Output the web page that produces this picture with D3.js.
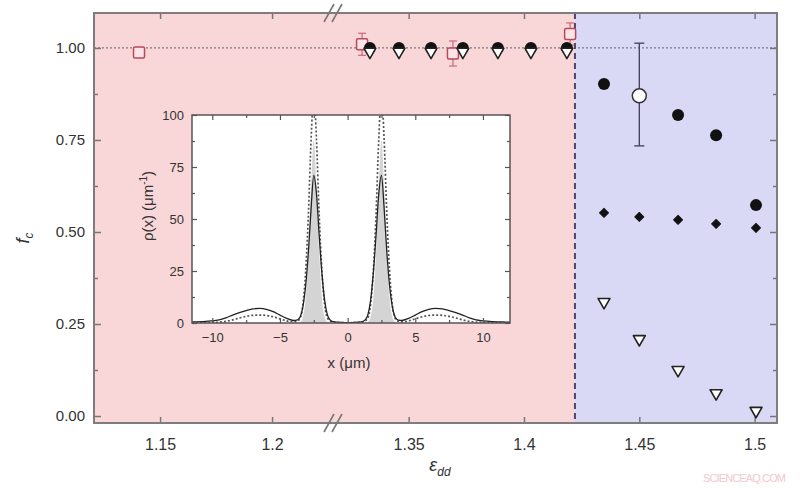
<!DOCTYPE html>
<html>
<head>
<meta charset="utf-8">
<script src="https://cdn.jsdelivr.net/npm/d3@7"></script>
<style>
body { margin: 0; background: #fff; }
text { font-family: "Liberation Sans", Arial, sans-serif; fill: #333; }
</style>
</head>
<body>
<svg id="chart" width="800" height="488"></svg>
<script>
// ---- main panel data ----
var epsCircle = [1.3332, 1.3458, 1.3597, 1.3735, 1.3887, 1.4030, 1.4186, 1.4347, 1.4668, 1.4833, 1.5006];
var fCircle   = [1.000, 1.000, 1.000, 1.000, 1.000, 1.000, 1.000, 0.902, 0.818, 0.763, 0.573];

var epsTri = [1.3332, 1.3458, 1.3597, 1.3735, 1.3887, 1.4030, 1.4186, 1.4347, 1.4500, 1.4668, 1.4833, 1.5006];
var fTri   = [0.990, 0.990, 0.990, 0.990, 0.990, 0.990, 0.990, 0.310, 0.209, 0.125, 0.062, 0.014];

var epsDiamond = [1.4347, 1.4500, 1.4668, 1.4833, 1.5006];
var fDiamond   = [0.552, 0.541, 0.533, 0.522, 0.511];

var epsOpen = [1.4500];
var fOpen   = [0.870];
var fOpenLo = [0.734];
var fOpenHi = [1.013];

var epsSquare = [1.1406, 1.3298, 1.3692, 1.4200];
var fSquare   = [0.988, 1.010, 0.985, 1.038];
var fSquareErr = [0.005, 0.030, 0.034, 0.030];

var yTicks = [0, 0.25, 0.5, 0.75, 1];
var yMinor = [0.125, 0.375, 0.625, 0.875];
var xTicksLeft = [1.15, 1.2];
var xTicksRight = [1.35, 1.4, 1.45, 1.5];
var epsCritical = 1.4221;
var fReference = 1.0;

// ---- inset data: density profile ----
var insetX = [-11.5, -10.5, -9.5, -9, -8.5, -8, -7.5, -7, -6.5, -6, -5.5, -5, -4.5, -4, -3.7, -3.5, -3.3, -3.1, -2.9, -2.7, -2.5, -2.3, -2.1, -1.9, -1.7, -1.5, -1.3, -1, -0.5,
              0, 0.5, 1, 1.3, 1.5, 1.7, 1.9, 2.1, 2.3, 2.5, 2.7, 2.9, 3.1, 3.3, 3.5, 3.7, 4, 4.5, 5, 5.5, 6, 6.5, 7, 7.5, 8, 8.5, 9, 9.5, 10.5, 11.5, 12];
var rhoSolid = [0.5, 0.8, 1.5, 2.5, 3.8, 5.0, 6.0, 6.8, 7.0, 6.6, 5.5, 3.8, 2.2, 1.2, 1.5, 3, 8, 18, 34, 55, 71, 62, 42, 24, 11, 4, 1.5, 0.5, 0.3,
                0.2, 0.3, 0.5, 1.5, 4, 11, 24, 42, 62, 71, 55, 34, 18, 8, 3, 1.5, 1.2, 2.2, 3.8, 5.5, 6.6, 7.0, 6.8, 6.0, 5.0, 3.8, 2.5, 1.5, 0.8, 0.5, 0.4];
var rhoDashed = [0.1, 0.2, 0.4, 0.8, 1.5, 2.4, 3.2, 3.7, 3.8, 3.6, 3.0, 2.0, 1.0, 0.6, 1.0, 2.5, 9, 25, 52, 88, 110, 88, 52, 25, 9, 2.5, 1.0, 0.4, 0.2,
                 0.1, 0.2, 0.4, 1.0, 2.5, 9, 25, 52, 88, 110, 88, 52, 25, 9, 2.5, 1.0, 0.6, 1.0, 2.0, 3.0, 3.6, 3.8, 3.7, 3.2, 2.4, 1.5, 0.8, 0.4, 0.2, 0.1, 0.1];
var rhoGrey = [0, 0, 0, 0, 0, 0, 0, 0, 0, 0, 0, 0, 0, 0, 0, 0.5, 3, 12, 34, 66, 88, 66, 34, 12, 3, 0.5, 0, 0, 0,
               0, 0, 0, 0, 0.5, 3, 12, 34, 66, 88, 66, 34, 12, 3, 0.5, 0, 0, 0, 0, 0, 0, 0, 0, 0, 0, 0, 0, 0, 0, 0, 0];
var insetXTicks = [-10, -5, 0, 5, 10];
var insetXMinor = [-7.5, -2.5, 2.5, 7.5];
var insetYTicks = [0, 25, 50, 75, 100];
var insetYMinor = [12.5, 37.5, 62.5, 87.5];

var svg = d3.select("#chart");

var frame = {left: 94, right: 777, top: 13, bottom: 423};
var breakX = 333;

// broken x axis: two linear pieces
var xL = d3.scaleLinear().domain([1.1205, 1.2272]).range([frame.left, breakX]);
var xR = d3.scaleLinear().domain([1.3172, 1.5097]).range([breakX, frame.right]);
function xPos(v) { return v < 1.27 ? xL(v) : xR(v); }

var y = d3.scaleLinear().domain([-0.019, 1.095]).range([frame.bottom, frame.top]);

// background shading
svg.append("rect")
    .attr("x", frame.left).attr("y", frame.top)
    .attr("width", xR(epsCritical) - frame.left)
    .attr("height", frame.bottom - frame.top)
    .attr("fill", "#f9d7d8");
svg.append("rect")
    .attr("x", xR(epsCritical)).attr("y", frame.top)
    .attr("width", frame.right - xR(epsCritical))
    .attr("height", frame.bottom - frame.top)
    .attr("fill", "#d9d9f6");

// reference line at f=1
svg.append("line")
    .attr("x1", frame.left).attr("x2", frame.right)
    .attr("y1", y(fReference)).attr("y2", y(fReference))
    .attr("stroke", "#7a7a8a").attr("stroke-width", 1.2)
    .attr("stroke-dasharray", "2,2");

// critical line
svg.append("line")
    .attr("x1", xR(epsCritical)).attr("x2", xR(epsCritical))
    .attr("y1", frame.top).attr("y2", frame.bottom)
    .attr("stroke", "#4b4570").attr("stroke-width", 2)
    .attr("stroke-dasharray", "6,4");

// axes
var axG = svg.append("g");
function styleAxis(g) {
  g.select(".domain").remove();
  g.selectAll(".tick line").attr("stroke", "#777").attr("stroke-width", 1.5);
  g.selectAll(".tick text").attr("fill", "#333");
}
axG.append("g").attr("transform", "translate(" + frame.left + ",0)")
    .call(d3.axisLeft(y).tickValues(yTicks).tickSize(-7).tickPadding(9).tickFormat(d3.format(".2f")))
    .call(styleAxis).selectAll("text").style("font-size", "15px");
axG.append("g").attr("transform", "translate(" + frame.left + ",0)")
    .call(d3.axisLeft(y).tickValues(yMinor).tickSize(-4).tickFormat(""))
    .call(styleAxis);
axG.append("g").attr("transform", "translate(" + frame.right + ",0)")
    .call(d3.axisRight(y).tickValues(yTicks).tickSize(-7).tickFormat(""))
    .call(styleAxis);
axG.append("g").attr("transform", "translate(" + frame.right + ",0)")
    .call(d3.axisRight(y).tickValues(yMinor).tickSize(-4).tickFormat(""))
    .call(styleAxis);

[[xL, xTicksLeft], [xR, xTicksRight]].forEach(function(p) {
  axG.append("g").attr("transform", "translate(0," + frame.bottom + ")")
      .call(d3.axisBottom(p[0]).tickValues(p[1]).tickSize(-6).tickPadding(16).tickFormat(d3.format("~g")))
      .call(styleAxis).selectAll("text").style("font-size", "16px");
  axG.append("g").attr("transform", "translate(0," + frame.top + ")")
      .call(d3.axisTop(p[0]).tickValues(p[1]).tickSize(-6).tickFormat(""))
      .call(styleAxis);
});

// frame
svg.append("rect")
    .attr("x", frame.left).attr("y", frame.top)
    .attr("width", frame.right - frame.left).attr("height", frame.bottom - frame.top)
    .attr("fill", "none").attr("stroke", "#7d7d7d").attr("stroke-width", 2);

// axis break marks
[frame.top, frame.bottom].forEach(function(yy) {
  [0, 8].forEach(function(dx) {
    svg.append("line")
        .attr("x1", breakX - 9 + dx).attr("y1", yy + 9)
        .attr("x2", breakX + 1 + dx).attr("y2", yy - 9)
        .attr("stroke", "#777").attr("stroke-width", 1.6);
  });
});

// axis titles
svg.append("text")
    .attr("transform", "translate(29,238) rotate(-90)")
    .attr("text-anchor", "middle")
    .style("font-size", "18px").style("font-style", "italic")
    .text("f")
  .append("tspan").attr("dy", 4).style("font-size", "12px").text("c");
svg.append("text")
    .attr("x", 440).attr("y", 471)
    .attr("text-anchor", "middle")
    .style("font-size", "18px").style("font-style", "italic")
    .text("ε")
  .append("tspan").attr("dy", 5).style("font-size", "12px").text("dd");

// ---- inset ----
var inset = {left: 192, right: 510, top: 115, bottom: 323};
var xi = d3.scaleLinear().domain([-11.5, 12]).range([inset.left, inset.right]);
var yi = d3.scaleLinear().domain([0, 100]).range([inset.bottom, inset.top]);

svg.append("rect")
    .attr("x", inset.left).attr("y", inset.top)
    .attr("width", inset.right - inset.left).attr("height", inset.bottom - inset.top)
    .attr("fill", "#fff");

svg.append("clipPath").attr("id", "insetClip")
  .append("rect")
    .attr("x", inset.left).attr("y", inset.top)
    .attr("width", inset.right - inset.left).attr("height", inset.bottom - inset.top);

var curves = svg.append("g").attr("clip-path", "url(#insetClip)");
var profile = insetX.map(function(x, i) {
  return {x: x, solid: rhoSolid[i], dashed: rhoDashed[i], grey: rhoGrey[i]};
});

curves.append("path")
    .datum(profile)
    .attr("fill", "#cdcdcd").attr("opacity", 0.85)
    .attr("d", d3.area().curve(d3.curveMonotoneX)
      .x(function(d) { return xi(d.x); })
      .y0(yi(0))
      .y1(function(d) { return yi(d.grey); }));
curves.append("path")
    .datum(profile)
    .attr("fill", "none").attr("stroke", "#555").attr("stroke-width", 1.7)
    .attr("stroke-dasharray", "2,2")
    .attr("d", d3.line().curve(d3.curveMonotoneX)
      .x(function(d) { return xi(d.x); })
      .y(function(d) { return yi(d.dashed); }));
curves.append("path")
    .datum(profile)
    .attr("fill", "none").attr("stroke", "#222").attr("stroke-width", 1.3)
    .attr("d", d3.line().curve(d3.curveMonotoneX)
      .x(function(d) { return xi(d.x); })
      .y(function(d) { return yi(d.solid); }));

var inG = svg.append("g");
inG.append("g").attr("transform", "translate(" + inset.left + ",0)")
    .call(d3.axisLeft(yi).tickValues(insetYTicks).tickSize(-5).tickPadding(8))
    .call(styleAxis).selectAll("text").style("font-size", "13px");
inG.append("g").attr("transform", "translate(" + inset.left + ",0)")
    .call(d3.axisLeft(yi).tickValues(insetYMinor).tickSize(-3).tickFormat(""))
    .call(styleAxis);
inG.append("g").attr("transform", "translate(" + inset.right + ",0)")
    .call(d3.axisRight(yi).tickValues(insetYTicks).tickSize(-5).tickFormat(""))
    .call(styleAxis);
inG.append("g").attr("transform", "translate(" + inset.right + ",0)")
    .call(d3.axisRight(yi).tickValues(insetYMinor).tickSize(-3).tickFormat(""))
    .call(styleAxis);
inG.append("g").attr("transform", "translate(0," + inset.bottom + ")")
    .call(d3.axisBottom(xi).tickValues(insetXTicks).tickSize(-5).tickPadding(10))
    .call(styleAxis).selectAll("text").style("font-size", "13px");
inG.append("g").attr("transform", "translate(0," + inset.bottom + ")")
    .call(d3.axisBottom(xi).tickValues(insetXMinor).tickSize(-3).tickFormat(""))
    .call(styleAxis);
inG.append("g").attr("transform", "translate(0," + inset.top + ")")
    .call(d3.axisTop(xi).tickValues(insetXTicks).tickSize(-5).tickFormat(""))
    .call(styleAxis);
inG.append("g").attr("transform", "translate(0," + inset.top + ")")
    .call(d3.axisTop(xi).tickValues(insetXMinor).tickSize(-3).tickFormat(""))
    .call(styleAxis);
inG.selectAll(".tick line").attr("stroke-width", 1.2).attr("stroke", "#555");

svg.append("rect")
    .attr("x", inset.left).attr("y", inset.top)
    .attr("width", inset.right - inset.left).attr("height", inset.bottom - inset.top)
    .attr("fill", "none").attr("stroke", "#555").attr("stroke-width", 1.5);

svg.append("text")
    .attr("x", 349).attr("y", 368)
    .attr("text-anchor", "middle")
    .style("font-size", "15px")
    .text("x (μm)");
svg.append("text")
    .attr("transform", "translate(153,206) rotate(-90)")
    .attr("text-anchor", "middle")
    .style("font-size", "15px")
    .text("ρ(x) (μm")
  .append("tspan").attr("dy", -6).style("font-size", "10px").text("-1")
  .select(function() { return this.parentNode; })
  .append("tspan").attr("dy", 6).text(")");

// ---- markers ----
var marks = svg.append("g");

// red squares with error bars
var squares = epsSquare.map(function(e, i) { return {e: e, f: fSquare[i], err: fSquareErr[i]}; });
var sq = marks.selectAll(".sq").data(squares).enter().append("g").attr("class", "sq");
sq.append("line")
    .attr("x1", function(d) { return xPos(d.e); }).attr("x2", function(d) { return xPos(d.e); })
    .attr("y1", function(d) { return y(d.f - d.err); }).attr("y2", function(d) { return y(d.f + d.err); })
    .attr("stroke", "#c9687a").attr("stroke-width", 1.2);
[-1, 1].forEach(function(s) {
  sq.append("line")
      .attr("x1", function(d) { return xPos(d.e) - 4; }).attr("x2", function(d) { return xPos(d.e) + 4; })
      .attr("y1", function(d) { return y(d.f + s * d.err); }).attr("y2", function(d) { return y(d.f + s * d.err); })
      .attr("stroke", "#c9687a").attr("stroke-width", 1.2);
});
sq.append("rect")
    .attr("x", function(d) { return xPos(d.e) - 5.5; })
    .attr("y", function(d) { return y(d.f) - 5.5; })
    .attr("width", 11).attr("height", 11).attr("rx", 1.5)
    .attr("fill", "#fbe3e6").attr("stroke", "#b8485c").attr("stroke-width", 1.5);

// filled circles
marks.selectAll(".fc").data(epsCircle).enter().append("circle")
    .attr("class", "fc")
    .attr("cx", function(d) { return xPos(d); })
    .attr("cy", function(d, i) { return y(fCircle[i]); })
    .attr("r", 6).attr("fill", "#111");

// open triangles (pointing down)
var tri = d3.symbol().type(d3.symbolTriangle).size(62);
marks.selectAll(".tr").data(epsTri).enter().append("path")
    .attr("class", "tr")
    .attr("d", tri)
    .attr("transform", function(d, i) { return "translate(" + xPos(d) + "," + y(fTri[i]) + ") rotate(180)"; })
    .attr("fill", "#fff").attr("stroke", "#222").attr("stroke-width", 1.6)
    .attr("stroke-linejoin", "round");

// small diamonds (rotated squares)
var dia = d3.symbol().type(d3.symbolSquare).size(40);
marks.selectAll(".di").data(epsDiamond).enter().append("path")
    .attr("class", "di")
    .attr("d", dia)
    .attr("transform", function(d, i) { return "translate(" + xPos(d) + "," + y(fDiamond[i]) + ") rotate(45)"; })
    .attr("fill", "#111").attr("stroke", "#111").attr("stroke-width", 1)
    .attr("stroke-linejoin", "round");

// open circle with error bar
epsOpen.forEach(function(e, i) {
  var cx = xPos(e);
  marks.append("line")
      .attr("x1", cx).attr("x2", cx).attr("y1", y(fOpenLo[i])).attr("y2", y(fOpenHi[i]))
      .attr("stroke", "#3c3c5a").attr("stroke-width", 1.3);
  [fOpenLo[i], fOpenHi[i]].forEach(function(v) {
    marks.append("line")
        .attr("x1", cx - 5).attr("x2", cx + 5).attr("y1", y(v)).attr("y2", y(v))
        .attr("stroke", "#3c3c5a").attr("stroke-width", 1.3);
  });
  marks.append("circle")
      .attr("cx", cx).attr("cy", y(fOpen[i])).attr("r", 7)
      .attr("fill", "#fff").attr("stroke", "#333").attr("stroke-width", 1.5);
});

// watermark
svg.append("text")
    .attr("x", 703).attr("y", 482)
    .attr("textLength", 83)
    .style("font-size", "11px").style("fill", "#f2c9cc")
    .text("SCIENCEAQ.COM");
</script>
</body>
</html>
